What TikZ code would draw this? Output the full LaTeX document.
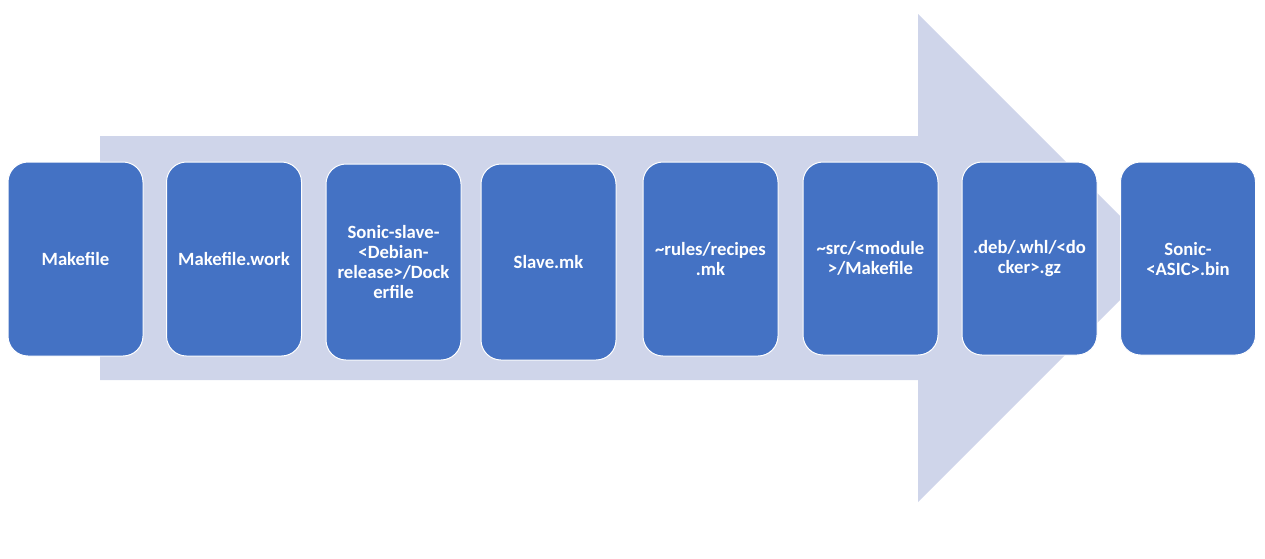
\documentclass[tikz,border=0pt]{standalone}
\usepackage{fontspec}
\setmainfont{Carlito}
\definecolor{boxblue}{HTML}{4472C4}
\definecolor{arrowfill}{HTML}{CFD5EA}
\begin{document}
\begin{tikzpicture}[x=1pt,y=-1pt,
  stepbox/.style={rectangle, rounded corners=20pt, fill=boxblue, draw=white, line width=1pt,
    minimum width=135pt, minimum height=194pt, inner sep=0pt, align=center, text=white,
    font=\fontsize{18.7}{20}\selectfont\bfseries}]
\useasboundingbox (0,0) rectangle (1265,558);
\fill[arrowfill] (100,136) -- (918,136) -- (918,14) -- (1162,258) -- (918,502) -- (918,380) -- (100,380) -- cycle;
\node[stepbox] (b1) at (75.5,259) {Makefile};
\node[stepbox] (b2) at (234,259) {Makefile.work};
\node[stepbox, minimum height=196pt] (b3) at (393.5,262) {Sonic-slave-\\<Debian-\\release>/Dock\\erfile};
\node[stepbox, minimum height=196pt] (b4) at (548.5,262) {Slave.mk};
\node[stepbox] (b5) at (710.5,259) {\textasciitilde rules/recipes\\.mk};
\node[stepbox, minimum height=193pt] (b6) at (870.5,258.5) {\textasciitilde src/<module\\>/Makefile};
\node[stepbox, minimum height=193pt] (b7) at (1029.5,258.5) {.deb/.whl/<do\\cker>.gz};
\node[stepbox, minimum height=193pt] (b8) at (1188,258.5) {Sonic-\\<ASIC>.bin};
\end{tikzpicture}
\end{document}
